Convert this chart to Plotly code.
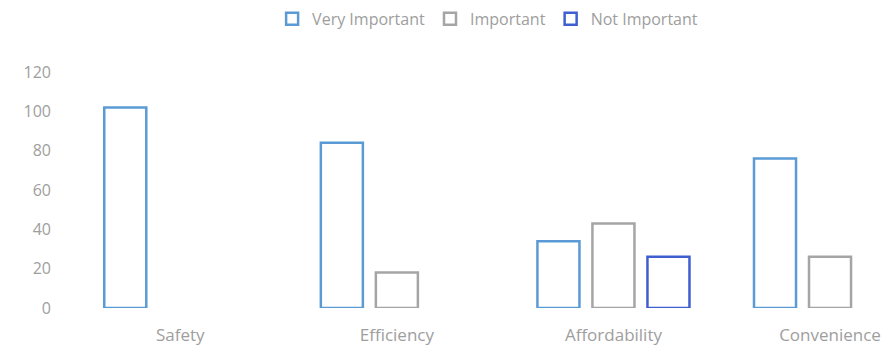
import plotly.graph_objects as go

categories = ["Safety", "Efficiency", "Affordability", "Convenience"]
very_important = [102, 84, 34, 76]
important = [None, 18, 43, 26]
not_important = [None, None, 26, None]
y_ticks = [0, 20, 40, 60, 80, 100, 120]

series = [
    ("Very Important", very_important, "#5B9BD5"),
    ("Important", important, "#A5A5A5"),
    ("Not Important", not_important, "#3F5FD0"),
]

fig = go.Figure()
for name, vals, col in series:
    fig.add_trace(go.Bar(
        x=categories, y=vals, name=name,
        marker=dict(color="rgba(255,255,255,0)", line=dict(color=col, width=2.5)),
    ))

font = "Open Sans, Liberation Sans, sans-serif"
txt = "#9e9e9e"
fig.update_layout(
    width=895, height=346,
    margin=dict(l=72, r=0, t=72, b=38),
    paper_bgcolor="white", plot_bgcolor="white",
    barmode="group", bargap=0.238, bargroupgap=0.236,
    font=dict(family=font, size=16, color=txt),
    showlegend=True,
    legend=dict(orientation="h", x=0.505, xanchor="center", xref="paper",
                y=0.995, yref="container", yanchor="top",
                font=dict(size=16, color=txt),
                itemwidth=30, tracegroupgap=0),
    xaxis=dict(range=[-0.5, 3.3], showgrid=False, showline=False, zeroline=False,
               ticks="", ticklabelstandoff=15, tickfont=dict(size=17, color=txt)),
    yaxis=dict(range=[0, 120], tickvals=y_ticks, showgrid=False, showline=False,
               zeroline=False, ticks="", ticklabelstandoff=20,
               tickfont=dict(size=16, color=txt)),
)
fig.write_html("out.html")
